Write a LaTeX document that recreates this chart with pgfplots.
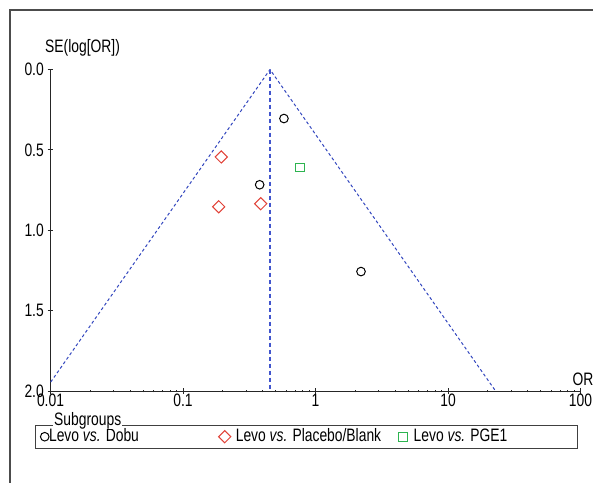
\documentclass[border=0pt]{standalone}
\usepackage{fontspec}
\setmainfont{Liberation Sans}[FakeStretch=0.77]
\usepackage{pgfplots}
\pgfplotsset{compat=1.18}
\definecolor{funnelblue}{RGB}{50,70,190}
\definecolor{vblue}{RGB}{65,85,205}
\definecolor{dred}{RGB}{225,65,55}
\definecolor{dgreen}{RGB}{45,180,80}
\newcommand{\chartfont}{\fontsize{18bp}{20bp}\selectfont}
\begin{document}
\begin{tikzpicture}
\useasboundingbox (0,0) rectangle (593bp,483bp);
\draw[black!70, line width=1.3bp] (10bp,0bp) -- (10bp,473bp) -- (593bp,473bp);
\begin{axis}[
  at={(50.5bp,92bp)}, anchor=south west,
  scale only axis, width=530bp, height=321.5bp,
  xmode=log, xmin=0.01, xmax=100,
  ymin=0, ymax=2, y dir=reverse,
  axis x line=bottom, axis y line=left,
  axis line style={-, black!85, line width=0.9bp},
  xtick={0.01,0.1,1,10,100},
  xticklabels={0.01,0.1,1,10,100},
  ytick={0,0.5,1,1.5,2},
  yticklabel style={/pgf/number format/fixed, /pgf/number format/fixed zerofill, /pgf/number format/precision=1},
  /pgf/number format/assume math mode=true,
  tick align=center, major tick length=6bp,
  tick style={black!85, line width=0.9bp},
  minor tick num=0,
  every tick label/.append style={font=\chartfont},
  xticklabel style={inner ysep=0bp, yshift=0bp},
  yticklabel style={inner xsep=3.5bp},
  ylabel={SE(log[OR])},
  ylabel style={rotate=-90, at={(axis description cs:-0.0104,1.0669)}, anchor=west, inner sep=0pt, font=\chartfont},
  xlabel={OR},
  xlabel style={at={(axis description cs:1.0047,0.0373)}, anchor=center, inner sep=0pt, font=\chartfont},
  clip=true,
  legend columns=3,
  legend style={name=leg, at={(axis description cs:-0.02925,-0.1058)}, anchor=north west,
    draw=black!75, line width=0.9bp, inner xsep=5bp, inner ysep=1.5bp,
    font=\chartfont,
    nodes={inner xsep=0bp, inner ysep=2bp, text height=12.5bp, text depth=3bp},
    legend cell align=left, column sep=0bp},
  legend image code/.code={\draw[#1] plot coordinates {(0bp,0bp)};},
]
\addplot[only marks, mark=o, mark size=4.3bp, black, line width=1bp, mark options={solid}] coordinates {
  (0.578,0.305) (0.379,0.717) (2.205,1.257)
};
\addlegendentry{\makebox[169.6bp][l]{Levo \textit{vs.} Dobu}}
\addplot[only marks, mark=square, mark size=4.3bp, dred, line width=1bp, mark options={rotate=45, solid}] coordinates {
  (0.1945,0.544) (0.186,0.854) (0.386,0.835)
};
\addlegendentry{\makebox[167.8bp][l]{\hspace{5bp}Levo \textit{vs.} Placebo/Blank}}
\addplot[only marks, mark=square, mark size=4.3bp, dgreen, line width=1bp, mark options={solid}] coordinates {
  (0.764,0.61)
};
\addlegendentry{\makebox[165bp][l]{\hspace{6.5bp}Levo \textit{vs.} PGE1}}
\addplot[color=funnelblue, draw=funnelblue, mark=none, line width=1bp, dash pattern=on 3bp off 2.5bp, forget plot] coordinates {
  (0.0090,2) (0.4535,0) (22.86,2)
};
\addplot[color=vblue, draw=vblue, mark=none, line width=1.1bp, dash pattern=on 4bp off 3bp, forget plot] coordinates {
  (0.4535,0) (0.4535,2)
};
\end{axis}
\node[fill=white, inner xsep=1bp, inner ysep=0.5bp, anchor=base west, font=\chartfont] at ([xshift=18bp,yshift=0bp]leg.north west) {Subgroups};
\end{tikzpicture}
\end{document}
